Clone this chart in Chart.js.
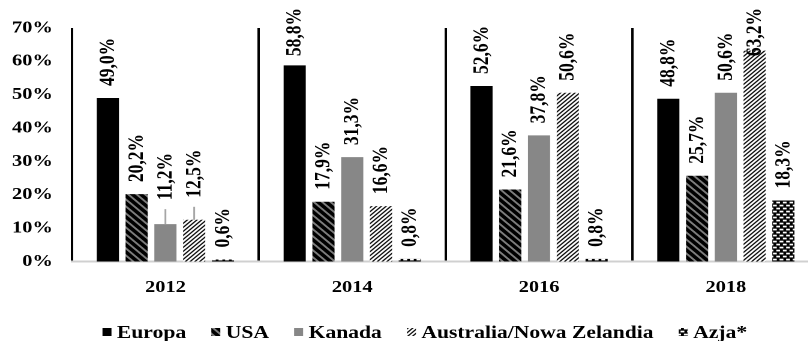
<!DOCTYPE html>
<html>
<head>
<meta charset="utf-8">
<script src="https://cdn.jsdelivr.net/npm/chart.js@4.4.1/dist/chart.umd.min.js"></script>
<style>
  html, body { margin: 0; padding: 0; background: #fff; overflow: hidden; width: 808px; height: 341px; }
  #wrap { position: absolute; left: 0; top: 0; width: 708px; height: 341px; transform: scaleX(1.2); transform-origin: 0 0; }
</style>
</head>
<body>
<div id="wrap"><canvas id="c"></canvas></div>
<script>
// Categories and series (percent of respondents)
const years = ['2012', '2014', '2016', '2018'];
const europa = [49.0, 58.8, 52.6, 48.8];
const usa = [20.2, 17.9, 21.6, 25.7];
const kanada = [11.2, 31.3, 37.8, 50.6];
const australia = [12.5, 16.6, 50.6, 63.2];
const azja = [0.6, 0.8, 0.8, 18.3];
const seriesNames = ['Europa', 'USA', 'Kanada', 'Australia/Nowa Zelandia', 'Azja*'];

// Labels lifted above a leader line (dataset-index: lift in px)
const raisedLabels = { '2-0': 24, '3-0': 22 };

const DPR = 2;
const FONT = "'Liberation Serif', 'Times New Roman', serif";
Chart.defaults.font.family = FONT;
Chart.defaults.color = '#000';

function makePattern(w, h, draw) {
  const c = document.createElement('canvas');
  c.width = w * DPR; c.height = h * DPR;
  const g = c.getContext('2d');
  g.scale(DPR, DPR);
  draw(g, w, h);
  const p = g.createPattern(c, 'repeat');
  p.setTransform(new DOMMatrix([1 / DPR, 0, 0, 1 / DPR, 0, 0]));
  return p;
}

// Grey with thick black "\" stripes
const usaFill = makePattern(7, 7, (g, s) => {
  g.fillStyle = '#7d7d7d'; g.fillRect(0, 0, s, s);
  g.strokeStyle = '#000'; g.lineWidth = 3.2; g.beginPath();
  for (const x0 of [-s, 0, s]) { g.moveTo(x0 - 1, -1); g.lineTo(x0 + s + 1, s + 1); }
  g.stroke();
});
// White with thin dark "/" hatching
const ausFill = makePattern(4, 4, (g, s) => {
  g.fillStyle = '#fff'; g.fillRect(0, 0, s, s);
  g.strokeStyle = '#111'; g.lineWidth = 1.2; g.beginPath();
  for (const x0 of [-s, 0, s]) { g.moveTo(x0 - 1, s + 1); g.lineTo(x0 + s + 1, -1); }
  g.stroke();
});
// Black with staggered rows of white blocks
const azjaFill = makePattern(5.6, 6, (g, w, h) => {
  g.fillStyle = '#000'; g.fillRect(0, 0, w, h);
  g.fillStyle = '#fff';
  g.fillRect(0.6, 0.7, 3.2, 1.7);
  g.fillRect(3.4, 3.7, 3.2, 1.7);
  g.fillRect(3.4 - w, 3.7, 3.2, 1.7);
});

const fmt = v => v.toFixed(1).replace('.', ',') + '%';

const valueLabels = {
  id: 'valueLabels',
  afterDatasetsDraw(chart) {
    const ctx = chart.ctx;
    ctx.save();
    ctx.font = 'bold 17.5px ' + FONT;
    chart.data.datasets.forEach((ds, i) => {
      const meta = chart.getDatasetMeta(i);
      meta.data.forEach((bar, j) => {
        const text = fmt(ds.data[j]);
        const L = ctx.measureText(text).width;
        const lift = raisedLabels[i + '-' + j];
        let start = bar.y - (lift || 12);
        if (start - L < 8) start = 8 + L;
        if (lift) {
          ctx.strokeStyle = '#a6a6a6';
          ctx.lineWidth = 1.5;
          ctx.beginPath();
          ctx.moveTo(bar.x, bar.y - lift + 9);
          ctx.lineTo(bar.x, bar.y);
          ctx.stroke();
        }
        ctx.save();
        ctx.translate(bar.x + 0.5, start);
        ctx.rotate(-Math.PI / 2);
        ctx.textAlign = 'left';
        ctx.textBaseline = 'middle';
        ctx.fillStyle = '#000';
        ctx.fillText(text, 0, 0);
        ctx.restore();
      });
    });
    ctx.restore();
  }
};

const legendRow = {
  id: 'legendRow',
  afterDraw(chart) {
    const ctx = chart.ctx;
    ctx.save();
    ctx.font = 'bold 18px ' + FONT;
    const box = 7.5, boxH = 8, gap = 4.5, space = 21, baseY = 338;
    const items = chart.data.datasets.map(d => ({
      text: d.label, fill: d.backgroundColor, w: ctx.measureText(d.label).width
    }));
    const total = items.reduce((a, it) => a + box + gap + it.w, 0) + space * (items.length - 1);
    let x = chart.width / 2 - total / 2;
    ctx.textAlign = 'left';
    ctx.textBaseline = 'alphabetic';
    for (const it of items) {
      ctx.fillStyle = it.fill;
      ctx.fillRect(x, baseY - 10, box, boxH);
      x += box + gap;
      ctx.fillStyle = '#000';
      ctx.fillText(it.text, x, baseY);
      x += it.w + space;
    }
    ctx.restore();
  }
};

new Chart(document.getElementById('c'), {
  type: 'bar',
  data: {
    labels: years,
    datasets: [
      { label: seriesNames[0], data: europa, backgroundColor: '#000' },
      { label: seriesNames[1], data: usa, backgroundColor: usaFill },
      { label: seriesNames[2], data: kanada, backgroundColor: '#878787' },
      { label: seriesNames[3], data: australia, backgroundColor: ausFill },
      { label: seriesNames[4], data: azja, backgroundColor: azjaFill }
    ]
  },
  options: {
    responsive: true,
    maintainAspectRatio: false,
    devicePixelRatio: DPR,
    animation: false,
    categoryPercentage: 0.77,
    barPercentage: 0.77,
    layout: { padding: { left: 0, top: 28, right: 25.3, bottom: 0 } },
    plugins: { legend: { display: false }, tooltip: { enabled: false } },
    scales: {
      x: {
        grid: { display: true, offset: true, color: '#000', lineWidth: 2, drawTicks: false },
        border: { display: true, color: '#d0d0d0', width: 2 },
        ticks: { color: '#000', font: { size: 17, weight: 'bold' }, padding: 16 },
        afterFit: s => { s.height = 79.5; }
      },
      y: {
        min: 0, max: 70,
        ticks: { stepSize: 10, callback: v => v + '%', color: '#000', font: { size: 17, weight: 'bold' }, padding: 16 },
        grid: { display: false, drawTicks: false },
        border: { display: false },
        afterFit: s => { s.width = 60; }
      }
    }
  },
  plugins: [valueLabels, legendRow]
});
</script>
</body>
</html>
